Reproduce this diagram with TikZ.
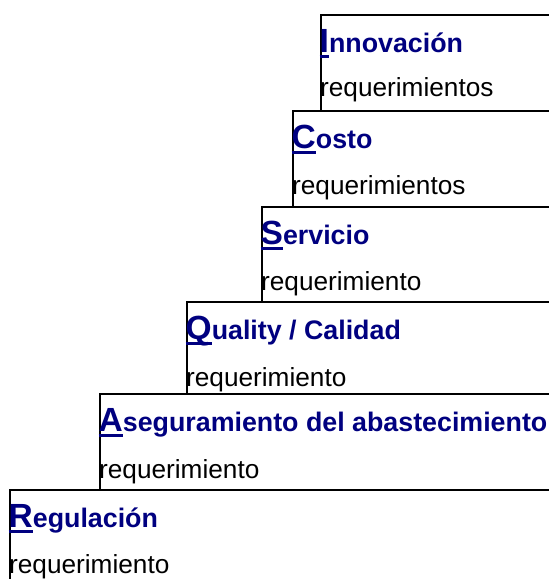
\documentclass[tikz,border=0pt]{standalone}
\usepackage{fontspec}
\setmainfont{Liberation Sans}
\definecolor{azulmarino}{RGB}{0,0,128}
\newcommand{\inicial}[1]{\setbox0\hbox{\fontsize{33.5}{33.5}\selectfont #1}\rlap{\rule[-6pt]{\wd0}{3pt}}\box0}
\tikzset{
  titulo/.style={anchor=base west, inner sep=0pt, text=azulmarino, font=\fontsize{26.8}{30}\selectfont\bfseries},
  texto/.style={anchor=base west, inner sep=0pt, font=\fontsize{26.2}{30}\selectfont},
  escalon/.style={line width=1.7pt}
}
\begin{document}
\begin{tikzpicture}[x=1pt, y=-1pt]
        \useasboundingbox[fill=white] (0,0) rectangle (549,579);

        \draw[escalon] (549,15) -- (321,15) -- (321,111);
        \node[titulo] (innovacion) at (319.5,52) {\inicial{I}nnovación};
        \node[texto] (innovacionReq) at (320,96) {requerimientos};

        \draw[escalon] (549,111) -- (293,111) -- (293,207);
        \node[titulo] (costo) at (291.5,148) {\inicial{C}osto};
        \node[texto] (costoReq) at (292,194) {requerimientos};

        \draw[escalon] (549,207) -- (262,207) -- (262,302);
        \node[titulo] (servicio) at (260.5,244) {\inicial{S}ervicio};
        \node[texto] (servicioReq) at (261,290) {requerimiento};

        \draw[escalon] (549,302) -- (187,302) -- (187,394);
        \node[titulo] (calidad) at (185.5,339) {\inicial{Q}uality / Calidad};
        \node[texto] (calidadReq) at (186,386) {requerimiento};

        \draw[escalon] (549,394) -- (100,394) -- (100,490);
        \node[titulo] (abastecimiento) at (98.5,431) {\inicial{A}seguramiento del abastecimiento};
        \node[texto] (abastecimientoReq) at (99,478) {requerimiento};

        \draw[escalon] (549,490) -- (10,490) -- (10,579);
        \node[titulo] (regulacion) at (8.5,527) {\inicial{R}egulación};
        \node[texto] (regulacionReq) at (9,573) {requerimiento};

    \end{tikzpicture}
\end{document}
